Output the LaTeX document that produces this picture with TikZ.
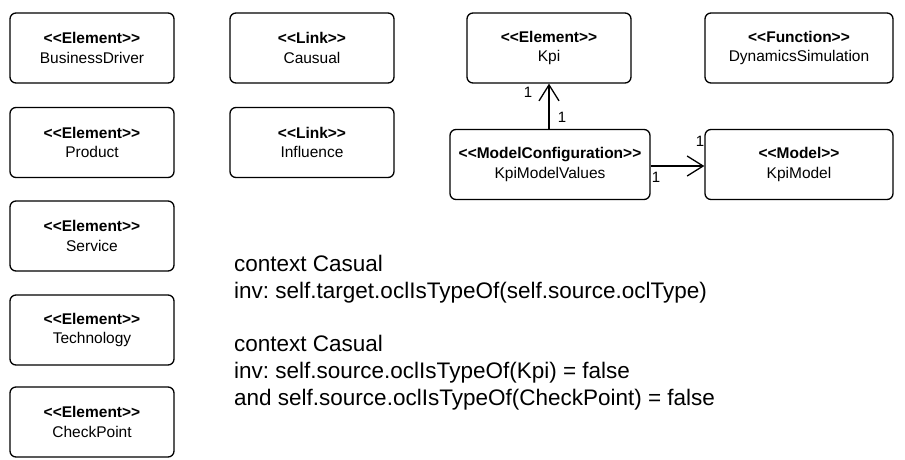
\documentclass[tikz,border=0pt]{standalone}
\usepackage{fontspec}
\setmainfont{Liberation Sans}[Ligatures=TeXOff]
\usetikzlibrary{arrows.meta}
\frenchspacing
\begin{document}
\begin{tikzpicture}[x=1pt,y=-1pt,
  box/.style={draw, line width=1.3pt, rounded corners=6pt, align=center, font=\fontsize{15.5}{19.5}\selectfont, inner sep=0pt},
  conn/.style={line width=1.3pt, -{Straight Barb[length=16pt,width=20pt,line width=1.3pt]}},
  mult/.style={font=\fontsize{15}{17}\selectfont, inner sep=1pt},
  ocl/.style={anchor=west, align=left, font=\fontsize{22.5}{27}\selectfont, inner sep=0pt}]
\useasboundingbox (0,0) rectangle (905,459);
\newcommand{\umlbox}[6]{\node[box, minimum width=#4pt, minimum height=70pt] (#1) at (#2,#3) {\textbf{<<#5>>}\\#6};}
\umlbox{bd}{92}{48}{164}{Element}{BusinessDriver}
\umlbox{prod}{92}{142.5}{164}{Element}{Product}
\umlbox{serv}{92}{236}{164}{Element}{Service}
\umlbox{tech}{92}{330}{164}{Element}{Technology}
\umlbox{cp}{92}{422}{164}{Element}{CheckPoint}
\umlbox{caus}{312}{48}{164}{Link}{Causual}
\umlbox{infl}{312}{142.5}{164}{Link}{Influence}
\umlbox{kpi}{549}{48}{164}{Element}{Kpi}
\umlbox{dyn}{799}{48}{188}{Function}{DynamicsSimulation}
\umlbox{kmv}{550}{164.5}{200}{ModelConfiguration}{KpiModelValues}
\umlbox{km}{799}{164.5}{188}{Model}{KpiModel}
\draw[conn] (kmv.north -| kpi.south) -- (kpi.south);
\draw[conn] (kmv.east |- 0,166) -- (km.west |- 0,166);
\node[mult] (m1) at (528,92) {1};
\node[mult] (m2) at (562,117) {1};
\node[mult] (m3) at (700,141) {1};
\node[mult] (m4) at (656,177) {1};
\node[ocl] (t1) at (234,279) {context Casual\\inv: self.target.oclIsTypeOf(self.source.oclType)};
\node[ocl] (t2) at (234,373) {context Casual\\inv: self.source.oclIsTypeOf(Kpi) = false\\and self.source.oclIsTypeOf(CheckPoint) = false};
\end{tikzpicture}
\end{document}
